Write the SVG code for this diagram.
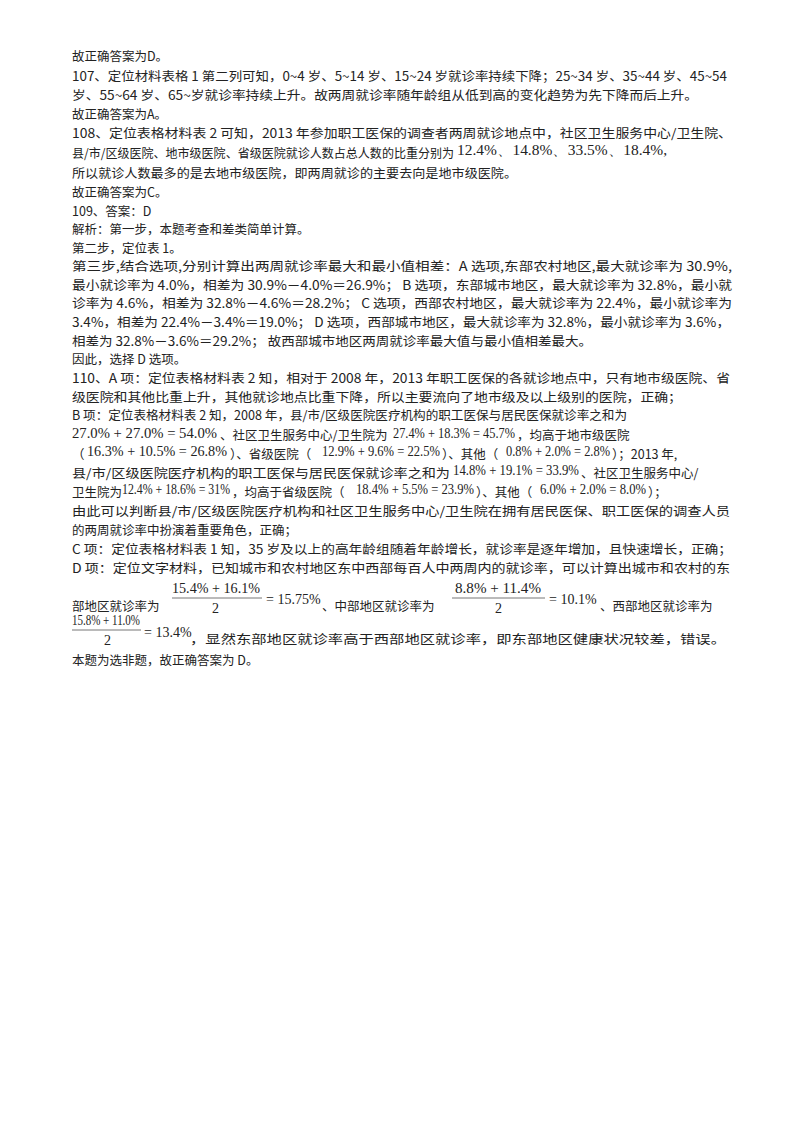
<svg xmlns="http://www.w3.org/2000/svg" width="800" height="1132" viewBox="0 0 800 1132">
<style>
text{font-family:"Noto Sans CJK SC","Liberation Serif",serif;font-size:12.5px;fill:#222;}
.m{font-family:"Liberation Serif",serif;font-size:14px;}
</style>
<rect width="800" height="1132" fill="#fff"/>
<g id="text">
<text x="72" y="61">故正确答案为D。</text>
<text x="72" y="81" textLength="655" lengthAdjust="spacingAndGlyphs">107、定位材料表格 1 第二列可知，0~4 岁、5~14 岁、15~24 岁就诊率持续下降；25~34 岁、35~44 岁、45~54</text>
<text x="72" y="100" textLength="626" lengthAdjust="spacingAndGlyphs">岁、55~64 岁、65~岁就诊率持续上升。故两周就诊率随年龄组从低到高的变化趋势为先下降而后上升。</text>
<text x="72" y="119">故正确答案为A。</text>
<text x="72" y="138" textLength="660" lengthAdjust="spacingAndGlyphs">108、定位表格材料表 2 可知，2013 年参加职工医保的调查者两周就诊地点中，社区卫生服务中心/卫生院、</text>
<text x="72" y="158" textLength="382" lengthAdjust="spacingAndGlyphs">县/市/区级医院、地市级医院、省级医院就诊人数占总人数的比重分别为</text>
<text x="457" y="155" class="m" textLength="210" lengthAdjust="spacingAndGlyphs">12.4%、14.8%、33.5%、18.4%,</text>
<text x="72" y="178" textLength="445" lengthAdjust="spacingAndGlyphs">所以就诊人数最多的是去地市级医院，即两周就诊的主要去向是地市级医院。</text>
<text x="72" y="197">故正确答案为C。</text>
<text x="72" y="216">109、答案：D</text>
<text x="72" y="234">解析：第一步，本题考查和差类简单计算。</text>
<text x="72" y="253">第二步，定位表 1。</text>
<text x="72" y="271" textLength="660" lengthAdjust="spacingAndGlyphs">第三步,结合选项,分别计算出两周就诊率最大和最小值相差：A 选项,东部农村地区,最大就诊率为 30.9%,</text>
<text x="72" y="290" textLength="660" lengthAdjust="spacingAndGlyphs">最小就诊率为 4.0%，相差为 30.9%－4.0%＝26.9%； B 选项，东部城市地区，最大就诊率为 32.8%，最小就</text>
<text x="72" y="308" textLength="660" lengthAdjust="spacingAndGlyphs">诊率为 4.6%，相差为 32.8%－4.6%＝28.2%； C 选项，西部农村地区，最大就诊率为 22.4%，最小就诊率为</text>
<text x="72" y="327" textLength="658" lengthAdjust="spacingAndGlyphs">3.4%，相差为 22.4%－3.4%＝19.0%； D 选项，西部城市地区，最大就诊率为 32.8%，最小就诊率为 3.6%，</text>
<text x="72" y="346" textLength="520" lengthAdjust="spacingAndGlyphs">相差为 32.8%－3.6%＝29.2%； 故西部城市地区两周就诊率最大值与最小值相差最大。</text>
<text x="72" y="364">因此，选择 D 选项。</text>
<text x="72" y="383" textLength="658" lengthAdjust="spacingAndGlyphs">110、A 项：定位表格材料表 2 知，相对于 2008 年，2013 年职工医保的各就诊地点中，只有地市级医院、省</text>
<text x="72" y="402" textLength="610" lengthAdjust="spacingAndGlyphs">级医院和其他比重上升，其他就诊地点比重下降，所以主要流向了地市级及以上级别的医院，正确；</text>
<text x="72" y="420" textLength="555" lengthAdjust="spacingAndGlyphs">B 项：定位表格材料表 2 知，2008 年，县/市/区级医院医疗机构的职工医保与居民医保就诊率之和为</text>
<text x="72" y="438" class="m" textLength="145" lengthAdjust="spacingAndGlyphs">27.0% + 27.0% = 54.0%</text>
<text x="220" y="440">、社区卫生服务中心/卫生院为</text>
<text x="393" y="438" class="m" textLength="122" lengthAdjust="spacingAndGlyphs">27.4% + 18.3% = 45.7%</text>
<text x="517" y="440">，均高于地市级医院</text>
<text x="72" y="459">（</text>
<text x="87" y="456" class="m" textLength="140" lengthAdjust="spacingAndGlyphs">16.3% + 10.5% = 26.8%</text>
<text x="230" y="459">）、省级医院（</text>
<text x="322" y="456" class="m" textLength="118" lengthAdjust="spacingAndGlyphs">12.9% + 9.6% = 22.5%</text>
<text x="442" y="459">）、其他（</text>
<text x="506" y="456" class="m" textLength="104" lengthAdjust="spacingAndGlyphs">0.8% + 2.0% = 2.8%</text>
<text x="612" y="459">）；2013 年,</text>
<text x="72" y="478" textLength="378" lengthAdjust="spacingAndGlyphs">县/市/区级医院医疗机构的职工医保与居民医保就诊率之和为</text>
<text x="453" y="475" class="m" textLength="126" lengthAdjust="spacingAndGlyphs">14.8% + 19.1% = 33.9%</text>
<text x="581" y="478">、社区卫生服务中心/</text>
<text x="72" y="497">卫生院为</text>
<text x="122" y="494" class="m" textLength="108" lengthAdjust="spacingAndGlyphs">12.4% + 18.6% = 31%</text>
<text x="232" y="497">，均高于省级医院（</text>
<text x="356" y="494" class="m" textLength="118" lengthAdjust="spacingAndGlyphs">18.4% + 5.5% = 23.9%</text>
<text x="476" y="497">）、其他（</text>
<text x="540" y="494" class="m" textLength="106" lengthAdjust="spacingAndGlyphs">6.0% + 2.0% = 8.0%</text>
<text x="648" y="497">）；</text>
<text x="72" y="516" textLength="658" lengthAdjust="spacingAndGlyphs">由此可以判断县/市/区级医院医疗机构和社区卫生服务中心/卫生院在拥有居民医保、职工医保的调查人员</text>
<text x="72" y="535">的两周就诊率中扮演着重要角色，正确；</text>
<text x="72" y="554" textLength="660" lengthAdjust="spacingAndGlyphs">C 项：定位表格材料表 1 知，35 岁及以上的高年龄组随着年龄增长，就诊率是逐年增加，且快速增长，正确；</text>
<text x="72" y="573" textLength="658" lengthAdjust="spacingAndGlyphs">D 项：定位文字材料，已知城市和农村地区东中西部每百人中两周内的就诊率，可以计算出城市和农村的东</text>
<text x="72" y="611">部地区就诊率为</text>
<text x="172" y="593" class="m" textLength="88" lengthAdjust="spacingAndGlyphs">15.4% + 16.1%</text>
<line x1="172" y1="598" x2="262" y2="598" stroke="#777" stroke-width="1"/>
<text x="212" y="613" class="m">2</text>
<text x="266" y="604" class="m">= 15.75%</text>
<text x="322" y="611">、中部地区就诊率为</text>
<text x="455" y="593" class="m" textLength="86" lengthAdjust="spacingAndGlyphs">8.8% + 11.4%</text>
<line x1="452" y1="598" x2="545" y2="598" stroke="#777" stroke-width="1"/>
<text x="495" y="613" class="m">2</text>
<text x="549" y="604" class="m">= 10.1%</text>
<text x="600" y="611">、西部地区就诊率为</text>
<text x="72" y="625" class="m" textLength="68" lengthAdjust="spacingAndGlyphs">15.8% + 11.0%</text>
<line x1="72" y1="630" x2="141" y2="630" stroke="#777" stroke-width="1"/>
<text x="104" y="645" class="m">2</text>
<text x="144" y="637" class="m">= 13.4%</text>
<text x="190" y="644" textLength="536" lengthAdjust="spacingAndGlyphs">，显然东部地区就诊率高于西部地区就诊率，即东部地区健康状况较差，错误。</text>
<text x="72" y="665">本题为选非题，故正确答案为 D。</text>
</g>
</svg>
